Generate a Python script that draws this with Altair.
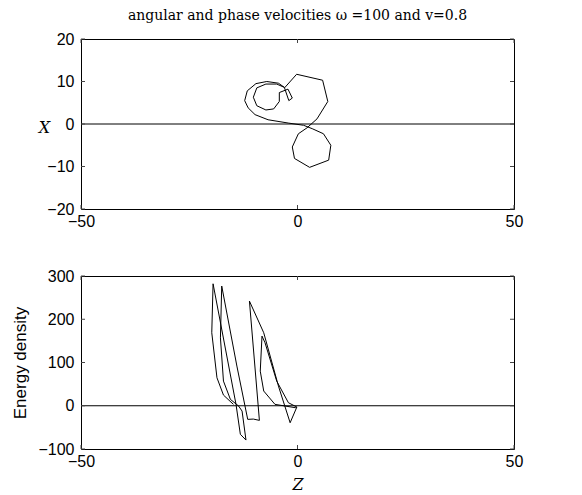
import altair as alt
import pandas as pd

TITLE = "angular and phase velocities ω =100 and v=0.8"

# top panel: trajectory X versus Z
traj_z = [2.2, 4.5, 7.0, 5.8, -0.2, -3.0, -2.0, -1.2, -2.2, -4.2, -4.2, -5.5, -7.3,
          -9.4, -10.2, -9.4, -7.3, -4.8, -3.0, -4.4, -7.1, -9.6, -11.6, -12.2, -11.4,
          -9.8, -6.8, -2.0, 1.4, 3.4, 6.0, 7.7, 7.2, 2.8, -0.7, -1.2, 0.2, 2.2]
traj_x = [-0.9, 1.2, 5.3, 10.3, 11.7, 8.5, 5.5, 6.1, 8.2, 7.4, 5.3, 3.55, 3.3,
          4.3, 6.3, 8.5, 9.4, 9.4, 8.6, 9.6, 10.0, 9.5, 7.8, 5.5, 3.8,
          2.2, 1.0, 0.2, -0.3, -1.1, -2.3, -5.0, -8.5, -10.2, -8.1, -5.4, -2.3, -0.9]

# bottom panel: energy density versus Z
en_z = [-14.8, -17.1, -18.6, -19.8, -19.5, -14.2, -13.2, -11.9, -12.8, -13.6, -15.5,
        -17.1, -17.8, -17.5, -14.0, -11.5, -10.2, -8.8, -11.1, -7.8, -4.4, -1.7, -0.15,
        -0.5, -5.2, -7.8, -8.6, -8.2, -7.5, -4.8, -2.1, -0.15]
en_e = [3.2, 24.7, 64.7, 168.8, 282, 3.2, -66, -79.3, -12.3, -0.7, 14.8,
        57, 157, 276.8, 91.8, -31.5, -30.8, -33.8, 242, 168.8, 45.5, -39.3, -3,
        -4.5, 3.2, 34, 80, 161, 145.7, 57, 7, -3]

x_ticks = [-50, 0, 50]
top_y_ticks = [-20, -10, 0, 10, 20]
bot_y_ticks = [-100, 0, 100, 200, 300]

W, H1, H2 = 433, 170, 173
SANS = "Liberation Sans"
SERIF = "DejaVu Serif"

top_df = pd.DataFrame({"i": range(len(traj_z)), "z": traj_z, "x": traj_x})
bot_df = pd.DataFrame({"i": range(len(en_z)), "z": en_z, "e": en_e})
xt_df = pd.DataFrame({"z": x_ticks})
yt1_df = pd.DataFrame({"x": top_y_ticks})
yt2_df = pd.DataFrame({"e": bot_y_ticks})

xscale = alt.Scale(domain=[-50, 50], nice=False, zero=False)


def x_axis(title=None):
    kw = dict(values=x_ticks, ticks=False, tickSize=0, domain=False, grid=False,
              labelFont=SANS, labelFontSize=16, labelColor="black", labelPadding=4,
              labelFlush=False)
    if title:
        kw.update(title=title, titleFont=SERIF, titleFontStyle="italic",
                  titleFontWeight="normal", titleFontSize=16, titleColor="black",
                  titleY=35, titleBaseline="middle")
    else:
        kw.update(title=None)
    return alt.Axis(**kw)


def y_axis(values, title, font, style, size, tx, ty, angle):
    return alt.Axis(values=values, ticks=False, tickSize=0, domain=False, grid=False,
                    labelFont=SANS, labelFontSize=16, labelColor="black", labelPadding=7,
                    title=title, titleFont=font, titleFontStyle=style, titleFontWeight="normal",
                    titleFontSize=size, titleColor="black", titleX=tx, titleY=ty,
                    titleAngle=angle, titleAlign="center", titleBaseline="middle")


def panel(df, yfield, yscale, yaxis, xaxis, ydf, zero_df, H, title=None):
    X = lambda: alt.X("z:Q", scale=xscale, axis=xaxis)
    Y = lambda: alt.Y(yfield, scale=yscale, axis=yaxis)
    line = alt.Chart(df).mark_line(color="black", strokeWidth=1).encode(
        x=X(), y=Y(), order="i:Q")
    zero = alt.Chart(zero_df).mark_rule(color="black", strokeWidth=1).encode(y=Y())
    xt_b = alt.Chart(xt_df).mark_rule(color="#444", strokeWidth=1).encode(
        x=X(), y=alt.value(H), y2=alt.value(H - 4))
    xt_t = alt.Chart(xt_df).mark_rule(color="#444", strokeWidth=1).encode(
        x=X(), y=alt.value(0), y2=alt.value(4))
    yt_l = alt.Chart(ydf).mark_rule(color="#444", strokeWidth=1).encode(
        y=Y(), x=alt.value(0), x2=alt.value(4))
    yt_r = alt.Chart(ydf).mark_rule(color="#444", strokeWidth=1).encode(
        y=Y(), x=alt.value(W), x2=alt.value(W - 4))
    props = dict(width=W, height=H)
    if title is not None:
        props["title"] = title
    return alt.layer(line, zero, xt_b, xt_t, yt_l, yt_r).properties(**props)


yscale1 = alt.Scale(domain=[-20, 20], nice=False, zero=False)
yscale2 = alt.Scale(domain=[-100, 300], nice=False, zero=False)

top = panel(top_df, "x:Q", yscale1,
            y_axis(top_y_ticks, "X", SERIF, "italic", 16, -37, H1 / 2 + 3, 0),
            x_axis(), yt1_df, pd.DataFrame({"x": [0]}), H1,
            alt.TitleParams(TITLE, font=SERIF, fontSize=14, fontWeight="normal",
                            color="black", offset=8, anchor="middle"))

bottom = panel(bot_df, "e:Q", yscale2,
               y_axis(bot_y_ticks, "Energy density", SANS, "normal", 17, -61, H2 / 2, 270),
               x_axis("Z"), yt2_df, pd.DataFrame({"e": [0]}), H2)

chart = alt.vconcat(top, bottom, spacing=67, bounds="flush").properties(
    padding={"left": 2, "top": 0, "right": 5, "bottom": 0}
).configure_view(stroke="black", strokeWidth=1)

chart.save("out.html", embed_options={"renderer": "svg", "actions": False})
